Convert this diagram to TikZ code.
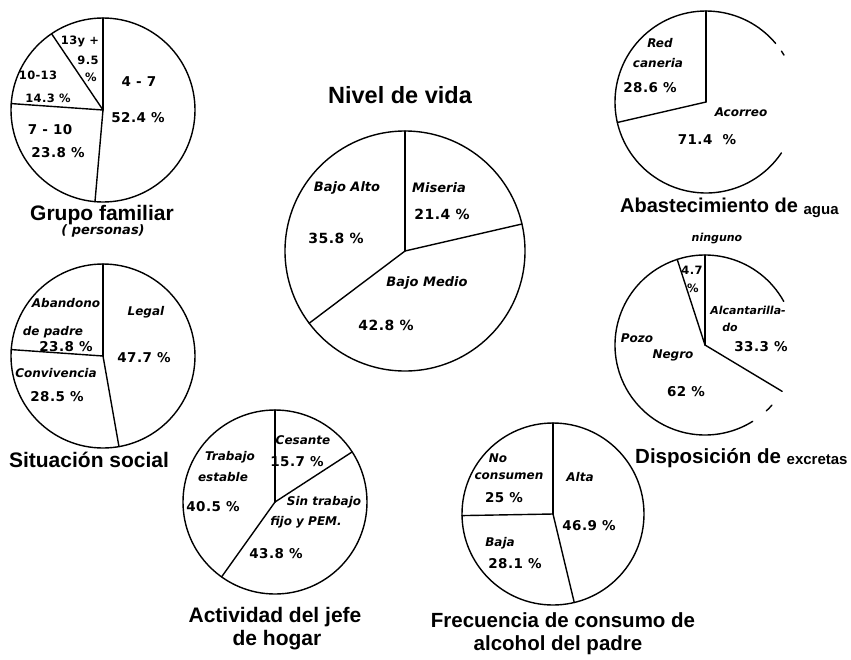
\documentclass[tikz,border=0pt]{standalone}
\usepackage{fontspec}
\setmainfont{Liberation Sans}
\newfontfamily\lblfont{DejaVu Sans}
\newfontfamily\numfont[LetterSpace=3]{DejaVu Sans}
\tikzset{
  pieline/.style={line width=1.4pt, line cap=round},
  lbl/.style={font=\lblfont\bfseries\itshape\fontsize{12}{13}\selectfont, inner sep=0pt},
  lblbig/.style={font=\lblfont\bfseries\itshape\fontsize{13}{14}\selectfont, inner sep=0pt},
  lblsm/.style={font=\lblfont\bfseries\itshape\fontsize{11}{12}\selectfont, inner sep=0pt},
  num/.style={font=\numfont\bfseries\fontsize{13.5}{14}\selectfont, inner sep=0pt},
  numbig/.style={font=\numfont\bfseries\fontsize{14}{15}\selectfont, inner sep=0pt},
  numsm/.style={font=\numfont\bfseries\fontsize{11.5}{12}\selectfont, inner sep=0pt},
  ttl/.style={font=\bfseries\fontsize{21}{24}\selectfont, inner sep=0pt},
}
\begin{document}
\begin{tikzpicture}[x=1pt,y=-1pt]
\useasboundingbox (0,0) rectangle (851,659);

% ---------- Grupo familiar ----------
\coordinate (cA) at (103,110);
\draw[pieline] (cA) circle[radius=92pt];
\foreach \a in {90,124,176,265} \draw[pieline] (cA) -- ++(\a:92pt);
\node[num] (a1) at (139,82) {4 - 7};
\node[num] (a2) at (138,118) {52.4 \%};
\node[num] (a3) at (50,130) {7 - 10};
\node[num] (a4) at (58,153) {23.8 \%};
\node[numsm] (a5) at (38,75) {10-13};
\node[numsm] (a6) at (48,98) {14.3 \%};
\node[numsm] (a7) at (80,41) {13y +};
\node[numsm] (a8) at (88,60) {9.5};
\node[numsm] (a9) at (91,77) {\%};
\node[ttl] (ta) at (102,215) {Grupo familiar};
\node[lbl, font=\lblfont\bfseries\itshape\fontsize{13}{14}\selectfont] (ta2) at (103,231) {( personas)};

% ---------- Nivel de vida ----------
\coordinate (cB) at (405,251);
\draw[pieline] (cB) circle[radius=120pt];
\foreach \a in {90,13,217} \draw[pieline] (cB) -- ++(\a:120pt);
\node[ttl, font=\bfseries\fontsize{23.5}{26}\selectfont] (tb) at (400,95) {Nivel de vida};
\node[lblbig] (b1) at (347,188) {Bajo Alto};
\node[numbig] (b2) at (336,238) {35.8 \%};
\node[lblbig] (b3) at (439,188) {Miseria};
\node[numbig] (b4) at (442,214) {21.4 \%};
\node[lblbig] (b5) at (427,283) {Bajo Medio};
\node[numbig] (b6) at (386,325) {42.8 \%};

% ---------- Abastecimiento de agua ----------
\coordinate (cC) at (706,102);
\draw[pieline] (cC) ++(40:91pt) arc[start angle=40, end angle=326, radius=91pt];
\draw[pieline] (cC) ++(31:91pt) arc[start angle=31, end angle=34, radius=91pt];
\foreach \a in {90,193} \draw[pieline] (cC) -- ++(\a:91pt);
\node[lbl] (c1) at (660,43) {Red};
\node[lbl] (c2) at (658,63) {caneria};
\node[num] (c3) at (650,88) {28.6 \%};
\node[lbl] (c4) at (741,112) {Acorreo};
\node[num] (c5) at (707,140) {71.4 \ \%};
\node[ttl, anchor=west, font=\bfseries\fontsize{20}{22}\selectfont] (tc) at (620,208) {Abastecimiento de \raisebox{-2pt}{\fontsize{15}{16}\selectfont agua}};

% ---------- Disposicion de excretas ----------
\coordinate (cD) at (705,345);
\draw[pieline] (cD) ++(29:90pt) arc[start angle=29, end angle=302, radius=90pt];
\draw[pieline] (cD) ++(-47:90pt) arc[start angle=-47, end angle=-42, radius=90pt];
\foreach \a in {90,108,-31} \draw[pieline] (cD) -- ++(\a:90pt);
\node[lblsm] (d1) at (717,239) {ninguno};
\node[numsm] (d2) at (692,270) {4.7};
\node[numsm] (d3) at (693,288) {\%};
\node[lblsm] (d4) at (748,310) {Alcantarilla-};
\node[lblsm] (d5) at (730,327) {do};
\node[num] (d6) at (761,347) {33.3 \%};
\node[lbl] (d7) at (637,338) {Pozo};
\node[lbl] (d8) at (673,355) {Negro};
\node[num] (d9) at (686,392) {62 \%};
\node[ttl, anchor=west, font=\bfseries\fontsize{20.5}{22}\selectfont] (td) at (635,458) {Disposición de \raisebox{-1pt}{\fontsize{15}{16}\selectfont excretas}};

% ---------- Situacion social ----------
\coordinate (cE) at (103,356);
\draw[pieline] (cE) circle[radius=92pt];
\foreach \a in {90,176,280} \draw[pieline] (cE) -- ++(\a:92pt);
\node[lbl] (e1) at (66,303) {Abandono};
\node[lbl] (e2) at (53,332) {de padre};
\node[num] (e3) at (66,347) {23.8 \%};
\node[lbl] (e4) at (146,312) {Legal};
\node[num] (e5) at (144,358) {47.7 \%};
\node[lbl] (e6) at (56,373) {Convivencia};
\node[num] (e7) at (57,397) {28.5 \%};
\node[ttl] (te) at (89,460) {Situación social};

% ---------- Actividad del jefe de hogar ----------
\coordinate (cF) at (275,502);
\draw[pieline] (cF) circle[radius=92pt];
\foreach \a in {90,33,234.5} \draw[pieline] (cF) -- ++(\a:92pt);
\node[lbl] (f1) at (303,440) {Cesante};
\node[num] (f2) at (297,462) {15.7 \%};
\node[lbl] (f3) at (230,457) {Trabajo};
\node[lbl] (f4) at (223,477) {estable};
\node[num] (f5) at (213,507) {40.5 \%};
\node[lbl] (f6) at (324,502) {Sin trabajo};
\node[lbl] (f7) at (306,522) {fijo y PEM.};
\node[num] (f8) at (276,554) {43.8 \%};
\node[ttl] (tf1) at (275,617) {Actividad del jefe};
\node[ttl] (tf2) at (277,640) {de hogar};

% ---------- Frecuencia de consumo ----------
\coordinate (cG) at (553,514);
\draw[pieline] (cG) circle[radius=91pt];
\foreach \a in {90,181,283.5} \draw[pieline] (cG) -- ++(\a:91pt);
\node[lbl] (g1) at (498,458) {No};
\node[lbl] (g2) at (509,476) {consumen};
\node[num] (g3) at (504,498) {25 \%};
\node[lbl] (g4) at (580,477) {Alta};
\node[num] (g5) at (589,526) {46.9 \%};
\node[lbl] (g6) at (500,543) {Baja};
\node[num] (g7) at (515,564) {28.1 \%};
\node[ttl, font=\bfseries\fontsize{20.5}{22}\selectfont] (tg1) at (563,620) {Frecuencia de consumo de};
\node[ttl, font=\bfseries\fontsize{20.5}{22}\selectfont] (tg2) at (558,645) {alcohol del padre};
\end{tikzpicture}
\end{document}
